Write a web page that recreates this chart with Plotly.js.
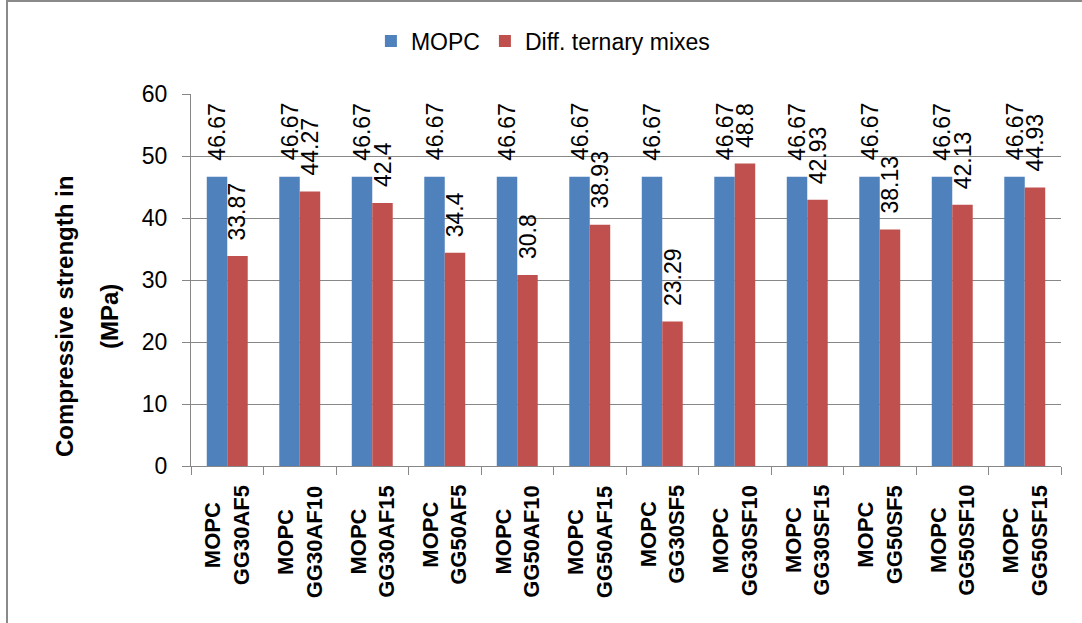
<!DOCTYPE html>
<html>
<head>
<meta charset="utf-8">
<script src="https://cdn.plot.ly/plotly-3.0.1.min.js"></script>
<style>
  html, body { margin: 0; padding: 0; background: #ffffff; }
  #wrap { position: relative; width: 1082px; height: 623px; overflow: hidden; }
  #chart { position: absolute; left: 0; top: 0; width: 1082px; height: 623px; }
  #frame { position: absolute; left: 6px; top: 0; width: 2000px; height: 2000px;
           border-left: 2px solid #8a8a8a; border-top: 2px solid #8a8a8a; pointer-events: none; }
</style>
</head>
<body>
<div id="wrap">
  <div id="chart"></div>
  <div id="frame"></div>
</div>
<script>
// Mix designations along the horizontal axis
const categories = ['GG30AF5', 'GG30AF10', 'GG30AF15', 'GG50AF5', 'GG50AF10', 'GG50AF15',
                    'GG30SF5', 'GG30SF10', 'GG30SF15', 'GG50SF5', 'GG50SF10', 'GG50SF15'];
// Reference mortar label shown above each mix name
const referenceLabel = 'MOPC';
// Compressive strength (MPa)
const mopcValues = [46.67, 46.67, 46.67, 46.67, 46.67, 46.67, 46.67, 46.67, 46.67, 46.67, 46.67, 46.67];
const mixValues  = [33.87, 44.27, 42.4, 34.4, 30.8, 38.93, 23.29, 48.8, 42.93, 38.13, 42.13, 44.93];
const seriesNames = ['MOPC', 'Diff. ternary mixes'];
const seriesColors = ['#4F81BD', '#C0504D'];
const yTitleLines = ['Compressive strength in', '(MPa)'];

const FONT = 'Liberation Sans, Arial, sans-serif';
const GRID = '#878787';

// Plot geometry used to place the rotated value labels over each bar
const MARGIN = { l: 191, r: 21, t: 94, b: 157 };
const BARGAP = 0.435;
const plotWidth = 1082 - MARGIN.l - MARGIN.r;
const barWidthPx = plotWidth / categories.length * (1 - BARGAP) / 2;

function barTrace(name, values, color) {
  return {
    type: 'bar',
    name: name,
    x: categories,
    y: values,
    marker: { color: color, line: { width: 0 } },
    hoverinfo: 'x+y+name'
  };
}

const data = [
  barTrace(seriesNames[0], mopcValues, seriesColors[0]),
  barTrace(seriesNames[1], mixValues, seriesColors[1])
];

// Value labels, rotated, sitting a little above each bar
function valueLabels(values, side) {
  return values.map((v, i) => ({
    x: categories[i], xref: 'x',
    y: v, yref: 'y',
    xanchor: 'center', yanchor: 'bottom',
    xshift: side * barWidthPx / 2,
    yshift: 14,
    textangle: -90,
    showarrow: false,
    text: String(v),
    font: { family: FONT, size: 23, color: '#000000' }
  }));
}

// Two-line category labels drawn under each group
const categoryLabels = categories.map(c => ({
  x: c, xref: 'x',
  y: 0, yref: 'paper',
  yanchor: 'top', xanchor: 'center',
  yshift: -17,
  textangle: -90,
  align: 'center',
  showarrow: false,
  text: '<b>' + referenceLabel + '<br>' + c + '</b>',
  font: { family: FONT, size: 22, color: '#000000' }
}));

// Vertical axis title, one annotation per line
const yTitle = [
  { text: yTitleLines[0], xshift: -127 },
  { text: yTitleLines[1], xshift: -82 }
].map(t => ({
  x: 0, xref: 'paper', y: 0.5, yref: 'paper',
  xanchor: 'center', yanchor: 'middle',
  xshift: t.xshift, yshift: -37,
  textangle: -90, showarrow: false,
  text: '<b>' + t.text + '</b>',
  font: { family: FONT, size: 24, color: '#000000' }
}));

const layout = {
  width: 1082,
  height: 623,
  margin: MARGIN,
  paper_bgcolor: '#ffffff',
  plot_bgcolor: '#ffffff',
  font: { family: FONT, color: '#000000' },
  barmode: 'group',
  bargap: BARGAP,
  bargroupgap: 0,
  showlegend: true,
  legend: {
    orientation: 'h',
    x: 0.4045, xanchor: 'center',
    y: 1.1425, yanchor: 'middle',
    font: { family: FONT, size: 23, color: '#000000' },
    itemclick: false
  },
  xaxis: {
    type: 'category',
    showticklabels: false,
    showgrid: false,
    showline: true,
    linecolor: GRID,
    linewidth: 1,
    ticks: 'outside',
    tickson: 'boundaries',
    ticklen: 8,
    tickcolor: GRID,
    tickwidth: 1,
    zeroline: false,
    fixedrange: true
  },
  yaxis: {
    range: [0, 60],
    dtick: 10,
    tick0: 0,
    showgrid: true,
    gridcolor: GRID,
    gridwidth: 1,
    showline: true,
    linecolor: GRID,
    linewidth: 1,
    ticks: 'outside',
    ticklen: 8,
    tickcolor: GRID,
    ticklabelstandoff: 10,
    zeroline: false,
    tickfont: { family: FONT, size: 23, color: '#000000' },
    fixedrange: true
  },
  annotations: valueLabels(mopcValues, -1)
    .concat(valueLabels(mixValues, 1))
    .concat(categoryLabels)
    .concat(yTitle)
};

Plotly.newPlot('chart', data, layout, { displayModeBar: false, staticPlot: true });
</script>
</body>
</html>
